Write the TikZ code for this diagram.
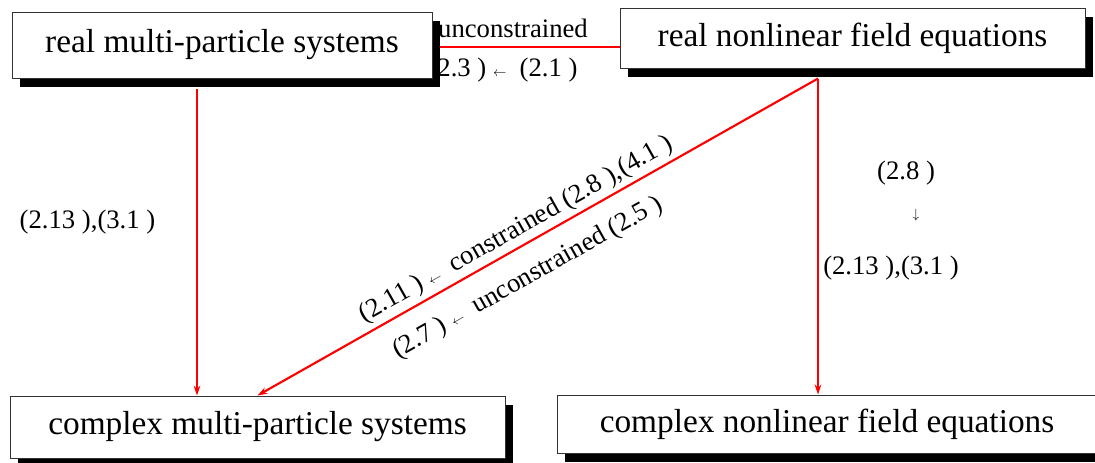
\documentclass[tikz,border=0pt]{standalone}
\usepackage{fontspec}
\setmainfont{Liberation Serif}
\usetikzlibrary{positioning,arrows.meta,calc,shadows,backgrounds}
\newcommand{\smallarr}[1]{{\fontsize{10}{12}\selectfont$#1$}}

\begin{document}
\begin{tikzpicture}[x=0.75pt,y=-0.75pt,
  box/.style={draw=black!80,line width=0.75pt,fill=white,inner sep=0pt,
    font=\fontsize{25}{30}\selectfont,
    drop shadow={shadow xshift=6pt,shadow yshift=-6.75pt,fill=black,opacity=1}},
  link/.style={red,line width=1.6pt,-{Stealth[length=7.5pt,width=5pt]}},
  lab/.style={font=\fontsize{20}{24}\selectfont,inner sep=0pt}]
\useasboundingbox (0,0) rectangle (1095,462);
% the four systems
\node[box,minimum width=315pt,minimum height=49.5pt] (realmp) at (222,45) {real multi-particle systems};
\node[box,minimum width=348.75pt,minimum height=45pt] (realnf) at (852.5,38) {real nonlinear field equations};
\node[box,minimum width=371.25pt,minimum height=46.5pt] (cplxmp) at (257.5,427) {complex multi-particle systems};
\node[box,minimum width=405pt,minimum height=43.5pt] (cplxnf) at (827,424) {complex nonlinear field equations};
\begin{scope}[on background layer]
% real to real
\draw[red,line width=1.6pt] (realmp.east |- 0,47) -- (realnf.west |- 0,47);
\node[lab] (uncon) at (513,28) {unconstrained};
\node[lab] (eqtop) at (503,70) {(2.3 )\ \smallarr{\leftarrow}\ \ (2.1 )};
% real to complex
\coordinate (mpout) at ($(realmp.south)+(-25,10)$);
\coordinate (nfout) at ($(realnf.south)+(-34.5,10)$);
\draw[link] (mpout) -- (mpout |- cplxmp.north);
\draw[link] (nfout) -- (nfout |- cplxnf.north);
\draw[link] (nfout) -- (cplxmp.north);
\node[lab] (eqleft) at (87.5,222) {(2.13 ),(3.1 )};
\node[lab] (eqr1) at (906,173) {(2.8 )};
\node[lab] (eqr2) at (916,215) {\smallarr{\downarrow}};
\node[lab] (eqr3) at (891,268) {(2.13 ),(3.1 )};
% along the diagonal
\node[lab,rotate=29.4] (eqcon) at (516,230) {(2.11 ) \smallarr{\leftarrow}\ \ constrained (2.8 ),(4.1 )};
\node[lab,rotate=29.4] (equncon) at (528,278) {(2.7 ) \smallarr{\leftarrow}\ \ unconstrained (2.5 )};
\end{scope}
\end{tikzpicture}
\end{document}
